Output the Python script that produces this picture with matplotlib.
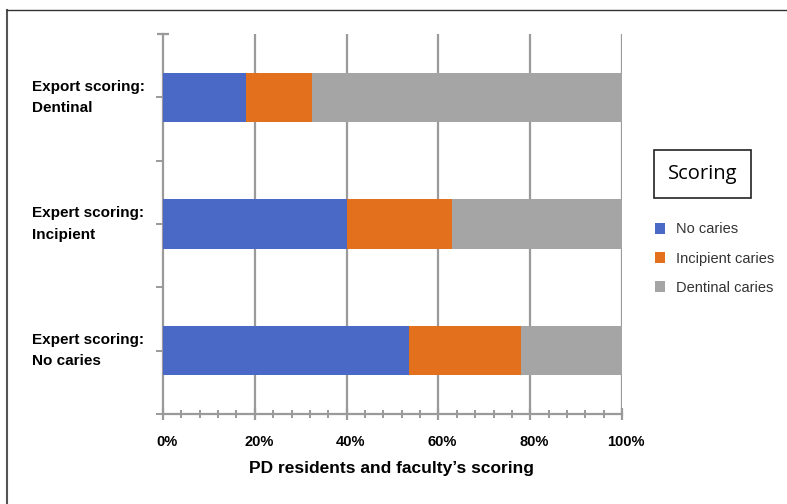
import numpy as np
import matplotlib.pyplot as plt
import matplotlib.transforms as mtransforms
from matplotlib.lines import Line2D
from matplotlib.patches import Patch

# ==========================================================
# Data (percent of PD residents / faculty scoring)
# ==========================================================

categories = [
    "Expert scoring:\nNo caries",
    "Expert scoring:\nIncipient",
    "Export scoring:\nDentinal",
]
series_names = ["No caries", "Incipient caries", "Dentinal caries"]
no_caries = [53.5, 40.0, 18.0]
incipient = [24.5, 23.0, 14.5]
dentinal = [22.0, 37.0, 67.5]

colors = ["#4a68c5", "#e2701d", "#a5a5a5"]
xticks = [0, 20, 40, 60, 80, 100]

plt.rcParams["font.family"] = ["Liberation Sans", "DejaVu Sans"]

fig = plt.figure(figsize=(7.87, 5.04), dpi=100)
ax = fig.add_axes([0.2071, 0.1786, 0.5833, 0.754])

y = np.arange(len(categories))
left = np.zeros(len(categories))
for vals, name, c in zip([no_caries, incipient, dentinal], series_names, colors):
    ax.barh(y, vals, left=left, height=0.39, color=c, label=name, zorder=3)
    left += np.asarray(vals)

ax.set_xlim(0, 100)
ax.set_ylim(-0.5, 2.5)

# vertical grid behind bars
for xv in xticks[1:]:
    ax.axvline(xv, color="#9a9a9a", lw=1.6, zorder=1)

for s in ["top", "right"]:
    ax.spines[s].set_visible(False)
for s in ["left", "bottom"]:
    ax.spines[s].set_color("#9a9a9a")
    ax.spines[s].set_linewidth(1.6)

ax.set_xticks(xticks)
ax.set_xticklabels([f"{v}%" for v in xticks], fontweight="bold", fontsize=10.5)
ax.set_xticks(np.arange(0, 101, 4), minor=True)
ax.tick_params(axis="x", which="major", direction="inout", length=8,
               width=1.6, color="#9a9a9a", pad=11)
ax.tick_params(axis="x", which="minor", direction="inout", length=6,
               width=1.4, color="#9a9a9a")

# labels sit a little right of their ticks in the original
shift = mtransforms.ScaledTranslation(4 / 100, 0, fig.dpi_scale_trans)
for lab in ax.get_xticklabels():
    lab.set_transform(lab.get_transform() + shift)

ax.set_yticks([-0.5, 0.5, 1.5], minor=True)
ax.set_yticks(y)
ax.set_yticklabels([])
ax.tick_params(axis="y", which="both", direction="out", length=5,
               width=1.4, color="#9a9a9a")
# top cap of the y axis
ax.plot([0], [2.5], marker="_", markersize=9, markeredgewidth=1.6,
        color="#9a9a9a", clip_on=False, zorder=4)

for yi, lab in zip(y, categories):
    ax.text(-0.285, yi, lab, transform=ax.get_yaxis_transform(),
            ha="left", va="center", fontsize=11, fontweight="bold",
            linespacing=1.65)

fig.text(0.498, 0.071, "PD residents and faculty\u2019s scoring",
         ha="center", va="center", fontsize=12.5, fontweight="bold")

# legend
fig.text(0.8925, 0.655, "Scoring", ha="center", va="center", fontsize=14.5,
         family=["Open Sans", "DejaVu Sans"],
         bbox=dict(boxstyle="square,pad=0.7", fc="white", ec="#222222", lw=1.2))
handles = [Patch(facecolor=c, edgecolor="none") for c in colors]
fig.legend(handles, series_names, loc="upper left",
           bbox_to_anchor=(0.815, 0.585), frameon=False, fontsize=10.5,
           handlelength=0.75, handleheight=0.75, handletextpad=0.75,
           labelspacing=1.05, labelcolor="#333333")

# outer frame (top and left edges)
fig.add_artist(Line2D([0.009, 0.009], [0.0, 0.98], color="#555555", lw=1.5,
                      transform=fig.transFigure))
fig.add_artist(Line2D([0.009, 1.0], [0.98, 0.98], color="#333333", lw=1.0,
                      transform=fig.transFigure))

fig.savefig("out.png", dpi=100)
